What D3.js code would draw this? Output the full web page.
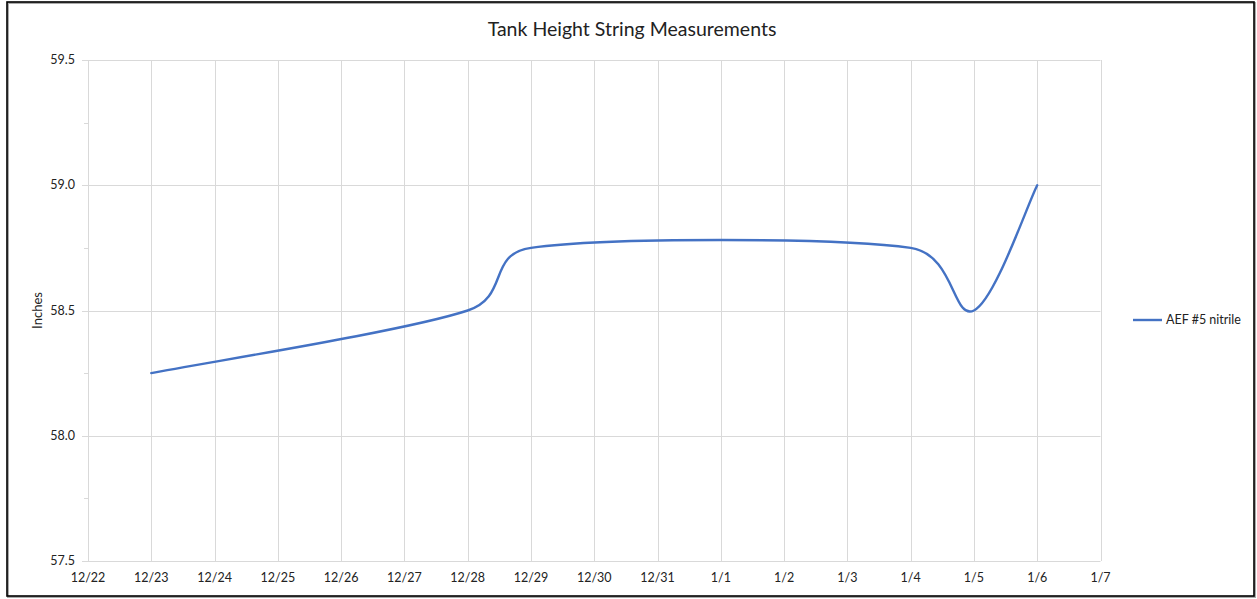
<!DOCTYPE html>
<html>
<head>
<meta charset="utf-8">
<script src="https://cdn.jsdelivr.net/npm/d3@7"></script>
<style>
  body { margin: 0; background: #fff; }
  text { font-family: Lato, "Open Sans", sans-serif; fill: #222; }
</style>
</head>
<body>
<div class="chart"></div>
<script>
var w = 1257,
  h = 599,
  margin = { left: 88, right: 157, top: 60, bottom: 38 },
  lineColor = '#4472C4',
  gridColor = '#d9d9d9';

// data
var dates = ['2023-12-23', '2023-12-28', '2023-12-29', '2024-01-04', '2024-01-05', '2024-01-06'];
var heights = [58.25, 58.5, 58.75, 58.75, 58.5, 59.0];
var seriesName = 'AEF #5 nitrile';
var yTicks = [57.5, 58.0, 58.5, 59.0, 59.5];
var yMinorTicks = [57.75, 58.25, 58.75, 59.25];

var parse = d3.timeParse('%Y-%m-%d');
var points = dates.map(function (d, i) {
  return { date: parse(d), value: heights[i] };
});

var svg = d3.select('.chart')
  .append('svg')
  .attr('width', w)
  .attr('height', h);

// outer frame
svg.append('rect')
  .attr('x', 8).attr('y', 3)
  .attr('width', 1247).attr('height', 594)
  .attr('fill', 'none')
  .attr('stroke', '#aaa')
  .attr('stroke-width', 2);
svg.append('rect')
  .attr('x', 7).attr('y', 2)
  .attr('width', 1247).attr('height', 594)
  .attr('fill', 'none')
  .attr('stroke', '#000')
  .attr('stroke-width', 1.6);

var x = d3.scaleTime()
  .domain([parse('2023-12-22'), parse('2024-01-07')])
  .range([margin.left, w - margin.right + 0.5]);

var y = d3.scaleLinear()
  .domain([57.5, 59.5])
  .range([h - margin.bottom, margin.top]);

var days = d3.timeDay.range(x.domain()[0], d3.timeDay.offset(x.domain()[1], 1));

// vertical gridlines
svg.append('g')
  .selectAll('line')
  .data(days)
  .enter()
  .append('line')
  .attr('x1', function (d) { return Math.round(x(d)) + 0.5; })
  .attr('x2', function (d) { return Math.round(x(d)) + 0.5; })
  .attr('y1', y(59.5))
  .attr('y2', y(57.5))
  .attr('stroke', gridColor);

// horizontal gridlines
svg.append('g')
  .selectAll('line')
  .data(yTicks)
  .enter()
  .append('line')
  .attr('x1', x.range()[0] - 6)
  .attr('x2', x.range()[1])
  .attr('y1', function (d) { return Math.round(y(d)) + 0.5; })
  .attr('y2', function (d) { return Math.round(y(d)) + 0.5; })
  .attr('stroke', gridColor);

// minor ticks on y axis
svg.append('g')
  .selectAll('line')
  .data(yMinorTicks)
  .enter()
  .append('line')
  .attr('x1', x.range()[0] - 4)
  .attr('x2', x.range()[0])
  .attr('y1', function (d) { return Math.round(y(d)) + 0.5; })
  .attr('y2', function (d) { return Math.round(y(d)) + 0.5; })
  .attr('stroke', gridColor);

// y tick labels
svg.append('g')
  .selectAll('text')
  .data(yTicks)
  .enter()
  .append('text')
  .attr('x', x.range()[0] - 13)
  .attr('y', function (d) { return y(d) + 4; })
  .attr('text-anchor', 'end')
  .attr('font-size', '12.5px')
  .text(function (d) { return d3.format('.1f')(d); });

// x tick labels
var fmt = d3.timeFormat('%-m/%-d');
svg.append('g')
  .selectAll('text')
  .data(days)
  .enter()
  .append('text')
  .attr('x', function (d) { return x(d); })
  .attr('y', y(57.5) + 21)
  .attr('text-anchor', 'middle')
  .attr('font-size', '12.5px')
  .text(function (d) { return fmt(d); });

// excel-like smoothing: cardinal tangents, clamped to half the neighbouring segment
function smoothPath(pts) {
  var p = d3.path();
  var n = pts.length;
  var tan = pts.map(function (pt, i) {
    var a = pts[Math.max(0, i - 1)], b = pts[Math.min(n - 1, i + 1)];
    return [(b[0] - a[0]) / 6, (b[1] - a[1]) / 6];
  });
  function clamp(t, len) {
    var l = Math.hypot(t[0], t[1]);
    var k = l > len ? len / l : 1;
    return [t[0] * k, t[1] * k];
  }
  p.moveTo(pts[0][0], pts[0][1]);
  for (var i = 0; i < n - 1; i++) {
    var a = pts[i], b = pts[i + 1];
    var d = Math.hypot(b[0] - a[0], b[1] - a[1]);
    var t1 = clamp(tan[i], d / 2), t2 = clamp(tan[i + 1], d / 2);
    p.bezierCurveTo(a[0] + t1[0], a[1] + t1[1], b[0] - t2[0], b[1] - t2[1], b[0], b[1]);
  }
  return p.toString();
}

var screenPts = points.map(function (d) { return [x(d.date), y(d.value)]; });

svg.append('path')
  .attr('d', smoothPath(screenPts))
  .attr('fill', 'none')
  .attr('stroke', lineColor)
  .attr('stroke-width', 2.4)
  .attr('stroke-linecap', 'round');

// title
svg.append('text')
  .attr('x', 632)
  .attr('y', 36)
  .attr('text-anchor', 'middle')
  .attr('font-size', '19.5px')
  .text('Tank Height String Measurements');

// y axis label
svg.append('text')
  .attr('transform', 'translate(42,' + ((y(57.5) + y(59.5)) / 2) + ') rotate(-90)')
  .attr('text-anchor', 'middle')
  .attr('font-size', '13px')
  .text('Inches');

// legend
svg.append('line')
  .attr('x1', 1133).attr('x2', 1162)
  .attr('y1', 320).attr('y2', 320)
  .attr('stroke', lineColor)
  .attr('stroke-width', 2.4);
svg.append('text')
  .attr('x', 1166)
  .attr('y', 324)
  .attr('font-size', '12.5px')
  .text(seriesName);
</script>
</body>
</html>
